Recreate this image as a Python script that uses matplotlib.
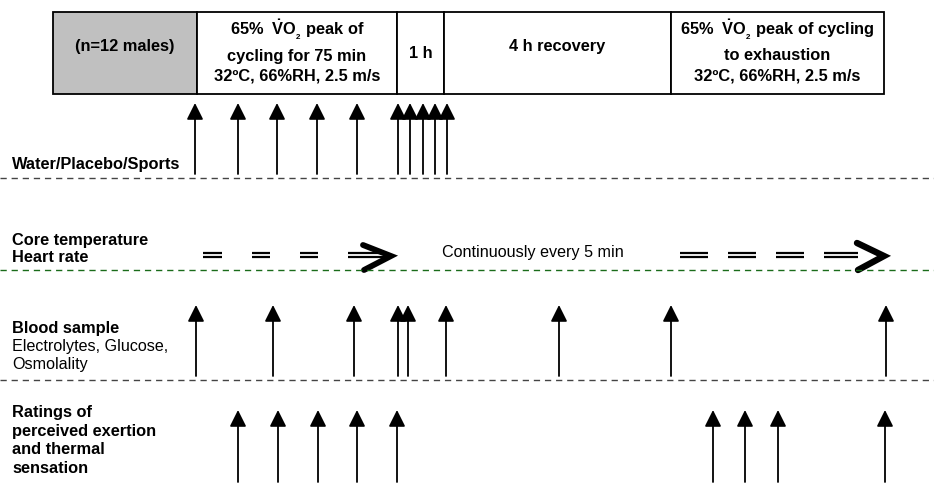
import matplotlib
matplotlib.use("Agg")
import matplotlib.pyplot as plt
from matplotlib.patches import Rectangle

plt.rcParams["font.family"] = ["Liberation Sans", "DejaVu Sans"]
plt.rcParams["mathtext.fontset"] = "custom"
plt.rcParams["mathtext.rm"] = "Liberation Sans"
plt.rcParams["mathtext.bf"] = "Liberation Sans:bold"

# schematic timeline (x in diagram units, left to right)
phase_edges = [53, 197, 397, 444, 671, 884]
phase_fill = ["#c0c0c0", "white", "white", "white", "white"]
phase_labels = [
    ["(n=12 males)"],
    [r"65%  $\mathbf{\dot{V}O_{_2}}$ peak of", "cycling for 75 min", "32ºC, 66%RH, 2.5 m/s"],
    ["1 h"],
    ["4 h recovery"],
    [r"65%  $\mathbf{\dot{V}O_{_2}}$ peak of cycling", "to exhaustion", "32ºC, 66%RH, 2.5 m/s"],
]
single_label_y = [47, 47, 54, 47, 47]
multi_label_y = [30, 56, 76]

water_x = [195, 238, 277, 317, 357, 398, 410, 423, 435, 447]
blood_x = [196, 273, 354, 398, 408, 446, 559, 671, 886]
ratings_x = [238, 278, 318, 357, 397, 713, 745, 778, 885]
monitor_early = [(203, 222), (252, 270), (300, 318), (348, 386)]
monitor_late = [(680, 708), (728, 756), (776, 804), (824, 858)]

fig = plt.figure(figsize=(9.34, 4.84), dpi=100)
ax = fig.add_axes([0, 0, 1, 1])
ax.set_xlim(0, 934)
ax.set_ylim(484, 0)
ax.axis("off")

fs_bold = 11.8
fs_norm = 11.6

box_top, box_bot = 12, 94
for i in range(len(phase_edges) - 1):
    x0, x1 = phase_edges[i], phase_edges[i + 1]
    ax.add_patch(Rectangle((x0, box_top), x1 - x0, box_bot - box_top,
                           facecolor=phase_fill[i], edgecolor="black", lw=1.3))
    lines = phase_labels[i]
    xc = (x0 + x1) / 2
    if len(lines) == 1:
        ax.text(xc, single_label_y[i], lines[0], ha="center", va="center",
                fontsize=fs_bold, fontweight="bold")
    else:
        for j, s in enumerate(lines):
            ax.text(xc, multi_label_y[j], s, ha="center", va="center",
                    fontsize=fs_bold, fontweight="bold")


def up_arrows(xs, y_top, y_bot):
    for x in xs:
        ax.annotate("", xy=(x, y_top), xytext=(x, y_bot),
                    arrowprops=dict(arrowstyle="-|>,head_length=0.5,head_width=0.25",
                                    mutation_scale=20, lw=1.3, color="black",
                                    shrinkA=0, shrinkB=0))


dash = (0, (4.5, 3.5))

# water / placebo / sports drink
ax.text(12, 165, "Water/Placebo/Sports", ha="left", va="center", fontsize=fs_bold, fontweight="bold")
up_arrows(water_x, 103, 174)
ax.plot([0, 934], [178, 178], color="#444444", lw=1, linestyle=dash)

# core temperature / heart rate
ax.text(12, 240, "Core temperature", ha="left", va="center", fontsize=fs_bold, fontweight="bold")
ax.text(12, 258, "Heart rate", ha="left", va="center", fontsize=fs_bold, fontweight="bold")
for segs in (monitor_early, monitor_late):
    for a, b in segs:
        ax.plot([a, b], [252.7, 252.7], color="black", lw=1.6, solid_capstyle="butt")
        ax.plot([a, b], [256.9, 256.9], color="black", lw=1.6, solid_capstyle="butt")
ax.plot([363, 391, 364], [245, 256, 270], color="black", lw=4.2,
        solid_joinstyle="miter", solid_capstyle="round")
ax.plot([857, 884, 858], [243, 256, 270], color="black", lw=4.6,
        solid_joinstyle="miter", solid_capstyle="round")
ax.text(442, 253, "Continuously every 5 min", ha="left", va="center", fontsize=fs_norm)
ax.plot([0, 934], [270, 270], color="#1a6b1a", lw=1, linestyle=dash)

# blood sample
ax.text(12, 328, "Blood sample", ha="left", va="center", fontsize=fs_bold, fontweight="bold")
ax.text(12, 346, "Electrolytes, Glucose,", ha="left", va="center", fontsize=fs_norm)
ax.text(12, 364, "Osmolality", ha="left", va="center", fontsize=fs_norm)
up_arrows(blood_x, 305, 376)
ax.plot([0, 934], [380, 380], color="#444444", lw=1, linestyle=dash)

# ratings
for j, s in enumerate(["Ratings of", "perceived exertion", "and thermal", "sensation"]):
    ax.text(12, 413 + 18.5 * j, s, ha="left", va="center", fontsize=fs_bold, fontweight="bold")
up_arrows(ratings_x, 410, 482)

fig.savefig("out.png", dpi=100)
